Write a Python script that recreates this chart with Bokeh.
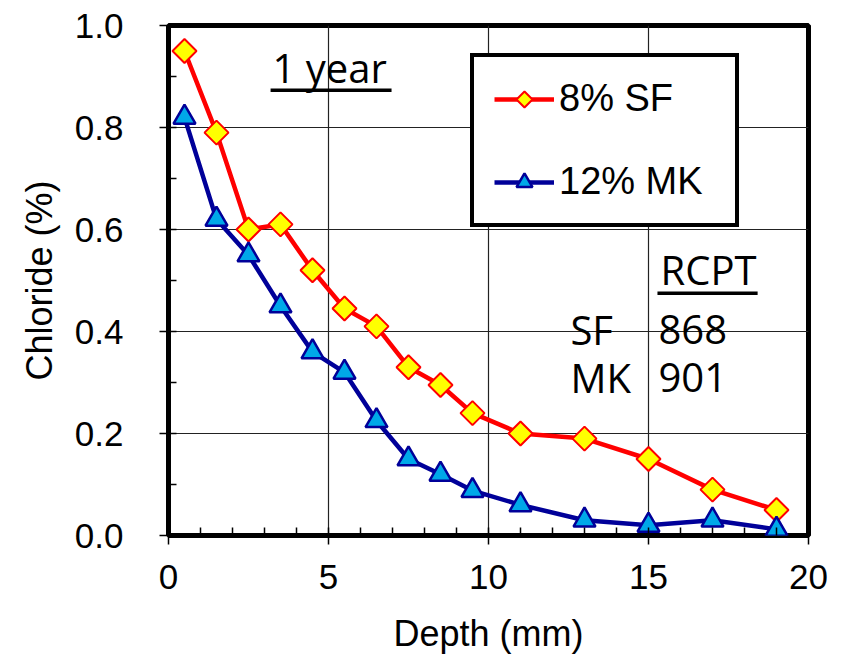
from bokeh.plotting import figure
from bokeh.models import (Range1d, SingleIntervalTicker, Legend, LegendItem, Label,
                          NumeralTickFormatter, ColumnDataSource, Ngon)
from bokeh.embed import file_html
from bokeh.resources import INLINE

# Chloride profiles after 1 year of exposure
depth_sf = [0.5, 1.5, 2.5, 3.5, 4.5, 5.5, 6.5, 7.5, 8.5, 9.5, 11, 13, 15, 17, 19]
chloride_sf = [0.95, 0.79, 0.60, 0.61, 0.52, 0.445, 0.41, 0.33, 0.295, 0.24, 0.20, 0.19, 0.15, 0.09, 0.05]

depth_mk = [0.5, 1.5, 2.5, 3.5, 4.5, 5.5, 6.5, 7.5, 8.5, 9.5, 11, 13, 15, 17, 19]
chloride_mk = [0.82, 0.62, 0.55, 0.45, 0.36, 0.32, 0.225, 0.15, 0.12, 0.088, 0.06, 0.03, 0.02, 0.03, 0.012]

series_labels = ["8% SF", "12% MK"]
rcpt_mix = ["SF", "MK"]
rcpt_value = ["868", "901"]

TICK_FONT = "Liberation Sans"
NOTE_FONT = "Open Sans"

p = figure(width=851, height=660, output_backend="svg", toolbar_location=None,
           x_range=Range1d(0, 20), y_range=Range1d(0, 1.0),
           min_border_left=168, min_border_right=43,
           min_border_top=25, min_border_bottom=125)

p.background_fill_color = "white"
p.border_fill_color = "white"
p.outline_line_color = "black"
p.outline_line_width = 5

# majors outward, minors inward
p.xaxis.ticker = SingleIntervalTicker(interval=5, num_minor_ticks=5)
p.yaxis.ticker = SingleIntervalTicker(interval=0.2, num_minor_ticks=2)
p.yaxis.formatter = NumeralTickFormatter(format="0.0")

for ax in (p.xaxis[0], p.yaxis[0]):
    ax.axis_line_color = None
    ax.major_tick_line_color = "black"
    ax.minor_tick_line_color = "black"
    ax.major_tick_line_width = 1.5
    ax.minor_tick_line_width = 1.5
    ax.major_tick_in = 0
    ax.major_tick_out = 9
    ax.minor_tick_in = 8
    ax.minor_tick_out = 0
    ax.major_label_text_font = TICK_FONT
    ax.major_label_text_font_size = "35px"
    ax.major_label_text_color = "black"
    ax.axis_label_text_font = TICK_FONT
    ax.axis_label_text_font_size = "36px"
    ax.axis_label_text_font_style = "normal"
    ax.axis_label_text_color = "black"

p.xaxis.axis_label = "Depth (mm)"
p.yaxis.axis_label = "Chloride (%)"
p.xaxis.major_label_standoff = 20
p.xaxis.axis_label_standoff = 21
p.yaxis.major_label_standoff = 36
p.yaxis.axis_label_standoff = 12

p.xgrid.grid_line_color = "#222222"
p.ygrid.grid_line_color = "#222222"
p.xgrid.grid_line_width = 1.2
p.ygrid.grid_line_width = 1.2

# series
src_sf = ColumnDataSource(data=dict(x=depth_sf, y=chloride_sf))
src_mk = ColumnDataSource(data=dict(x=depth_mk, y=chloride_mk))

l_sf = p.line("x", "y", source=src_sf, line_color="#FF0000", line_width=4.5)
m_sf = p.add_glyph(src_sf, Ngon(x="x", y="y", radius=12, radius_units="screen", n=4,
                                fill_color="#FFFF00", line_color="#FF0000", line_width=2))
l_mk = p.line("x", "y", source=src_mk, line_color="#000099", line_width=4.5)
m_mk = p.scatter("x", "y", source=src_mk, marker="triangle", size=22,
                 fill_color="#00A8E8", line_color="#000099", line_width=2.5)

legend = Legend(items=[LegendItem(label=series_labels[0], renderers=[l_sf, m_sf]),
                       LegendItem(label=series_labels[1], renderers=[l_mk, m_mk])],
                location=(302, 308))
legend.border_line_color = "black"
legend.border_line_alpha = 1
legend.border_line_width = 4
legend.background_fill_color = "white"
legend.background_fill_alpha = 1
legend.label_text_font = TICK_FONT
legend.label_text_font_size = "38px"
legend.label_text_color = "black"
legend.glyph_width = 60
legend.glyph_height = 40
legend.label_height = 40
legend.label_width = 156
legend.label_standoff = 5
legend.padding = 20
legend.spacing = 40
legend.margin = 0
p.add_layout(legend)

# annotations
def note(x, y, text):
    p.add_layout(Label(x=x, y=y, text=text, text_font=NOTE_FONT, text_font_size="40px",
                       text_color="black", text_align="left", text_baseline="alphabetic"))

note(3.25, 0.918, "1 year")
note(15.375, 0.522, "RCPT")
note(12.56, 0.404, rcpt_mix[0])
note(15.31, 0.404, rcpt_value[0])
note(12.56, 0.31, rcpt_mix[1])
note(15.31, 0.31, rcpt_value[1])

# underlines below the headings
p.segment(x0=[3.19, 15.28], y0=[0.873, 0.475], x1=[6.97, 18.41], y1=[0.873, 0.475],
          line_color="black", line_width=3.5)

open("out.html", "w").write(file_html(p, INLINE))
